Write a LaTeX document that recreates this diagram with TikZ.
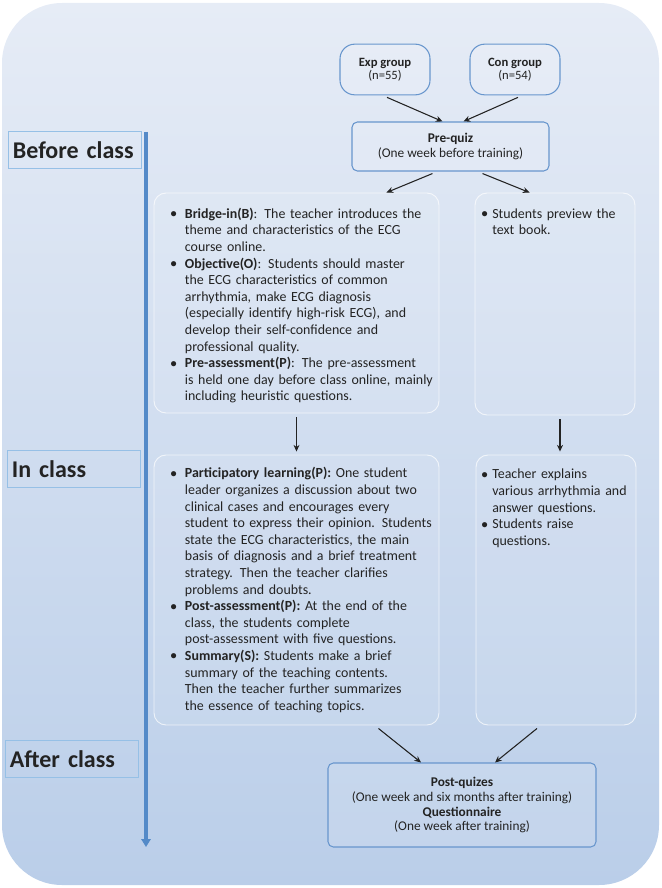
\documentclass[tikz,border=0pt]{standalone}
\usepackage{fontspec}
\setmainfont{Carlito}
\usetikzlibrary{positioning,calc,fit,arrows.meta}

\definecolor{bgtop}{RGB}{230,236,246}
\definecolor{bgbot}{RGB}{186,206,233}
\definecolor{edgeblue}{RGB}{104,150,205}
\definecolor{phaseedge}{RGB}{150,192,230}
\definecolor{tlblue}{RGB}{84,138,200}
\definecolor{ink}{RGB}{35,35,35}

% bullet item, continuation lines indented by \nl
\newlength{\pind}
\newcommand{\pitem}[1][11pt]{\par\noindent\setlength{\pind}{#1}\makebox[#1][l]{\raisebox{0.1ex}{$\bullet$}}}
\newcommand{\nl}{\newline\hspace*{\pind}}

\tikzset{
  group/.style={draw=edgeblue, line width=0.8pt, rounded corners=11pt, fill=white, fill opacity=0.12,
    text opacity=1, text=ink, align=center, inner sep=0pt, font=\fontsize{9.5}{9.8}\selectfont},
  quiz/.style={draw=edgeblue, line width=0.8pt, rounded corners=4pt, fill=white, fill opacity=0.12,
    text opacity=1, text=ink, align=center, inner sep=0pt, font=\fontsize{10}{11.2}\selectfont},
  panel/.style={draw=white, draw opacity=0.7, line width=0.7pt, rounded corners=9pt,
    fill=white, fill opacity=0.08, inner sep=0pt},
  paneltext/.style={anchor=north west, inner sep=0pt, text=ink,
    font=\fontsize{10.45}{12.45}\selectfont\raggedright},
  phase/.style={draw=phaseedge, line width=0.6pt, anchor=north west, minimum width=99.75pt,
    minimum height=27.75pt, text width=93pt, inner xsep=3pt, align=left, text=ink,
    font=\bfseries\fontsize{18}{20}\selectfont},
  arr/.style={ink, line width=0.8pt, -{Stealth[length=5pt,width=4.5pt]}},
  timeline/.style={tlblue, line width=3pt, -{Triangle[length=6pt,width=7pt]}}
}

\begin{document}
\begin{tikzpicture}[x=0.75pt,y=-0.75pt]
  \useasboundingbox (0,0) rectangle (661,888);
  \shade[top color=bgtop, bottom color=bgbot, rounded corners=45pt] (2,3) rectangle (659,885);

  % groups and pre-quiz
  \node[group, minimum width=67.5pt, minimum height=38pt] (exp) at (385,69.5) {\textbf{Exp group}\\(n=55)};
  \node[group, minimum width=67.5pt, minimum height=38pt] (con) at (515,69.5) {\textbf{Con group}\\(n=54)};
  \node[quiz, minimum width=147.75pt, minimum height=36.75pt] (pq) at (450.5,146.5) {\textbf{Pre-quiz}\\(One week before training)};

  % phase labels and timeline
  \node[phase] (before) at (8,131) {Before class};
  \node[phase] (inclass) at (7,450) {In class};
  \node[phase] (after) at (5,740) {After class};
  \coordinate (tltop) at (146,132);
  \coordinate (tlend) at (146,847);
  \draw[timeline] (tltop) -- (tlend);

  % panels
  \node[panel, fit={(154,193) (439,413)}] (bc) {};
  \node[panel, fit={(475,193) (635,415)}] (pc) {};
  \node[panel, fit={(154,455) (439,725)}] (ic) {};
  \node[panel, fit={(476,455) (636,725)}] (pc2) {};

  \node[paneltext, text width=215pt] (bctext) at (170,201.5) {%
    \pitem\textbf{Bridge-in(B)}:\enspace The teacher introduces the\nl
      theme and characteristics of the ECG\nl
      course online.
    \pitem\textbf{Objective(O)}:\enspace Students should master\nl
      the ECG characteristics of common\nl
      arrhythmia, make ECG diagnosis\nl
      (especially identify high-risk ECG), and\nl
      develop their self-confidence and\nl
      professional quality.
    \pitem\textbf{Pre-assessment(P)}:\enspace The pre-assessment\nl
      is held one day before class online, mainly\nl
      including heuristic questions.};
  \node[paneltext, text width=140pt] (pctext) at (481,201.5) {%
    \pitem[8.25pt]Students preview the\nl
      text book.};
  \node[paneltext, text width=215pt] (ictext) at (170,461) {%
    \pitem\textbf{Participatory learning(P):} One student\nl
      leader organizes a discussion about two\nl
      clinical cases and encourages every\nl
      student to express their opinion. Students\nl
      state the ECG characteristics, the main\nl
      basis of diagnosis and a brief treatment\nl
      strategy. Then the teacher clarifies\nl
      problems and doubts.
    \pitem\textbf{Post-assessment(P):} At the end of the\nl
      class, the students complete\nl
      post-assessment with five questions.
    \pitem\textbf{Summary(S):} Students make a brief\nl
      summary of the teaching contents.\nl
      Then the teacher further summarizes\nl
      the essence of teaching topics.};
  \node[paneltext, text width=140pt] (pc2text) at (481,462) {%
    \pitem[8.25pt]Teacher explains\nl
      various arrhythmia and\nl
      answer questions.
    \pitem[8.25pt]Students raise\nl
      questions.};

  % post-quizes
  \node[quiz, minimum width=201pt, minimum height=63pt] (post) at (462,805) {%
    \textbf{Post-quizes}\\(One week and six months after training)\\
    \textbf{Questionnaire}\\(One week after training)};

  % connectors
  \draw[arr] ($(exp.south)+(2,2)$) -- ($(pq.north)+(-8,0)$);
  \draw[arr] ($(con.south)+(3,2)$) -- ($(pq.north)+(13,0)$);
  \draw[arr] ($(pq.south)+(-18,2)$) -- ($(bc.north east)+(-53,0)$);
  \draw[arr] ($(pq.south)+(32,2)$) -- ($(pc.north west)+(55,0)$);
  \draw[arr] ($(bc.south)+(0,4)$) -- ($(ic.north)+(0,-3)$);
  \draw[arr] ($(pc.south)+(5,4)$) -- ($(pc2.north)+(4,-3)$);
  \draw[arr] ($(ic.south east)+(-61,3)$) -- ($(post.north)+(-41,0)$);
  \draw[arr] ($(pc2.south)+(-19,3)$) -- ($(post.north)+(33,0)$);
\end{tikzpicture}
\end{document}
